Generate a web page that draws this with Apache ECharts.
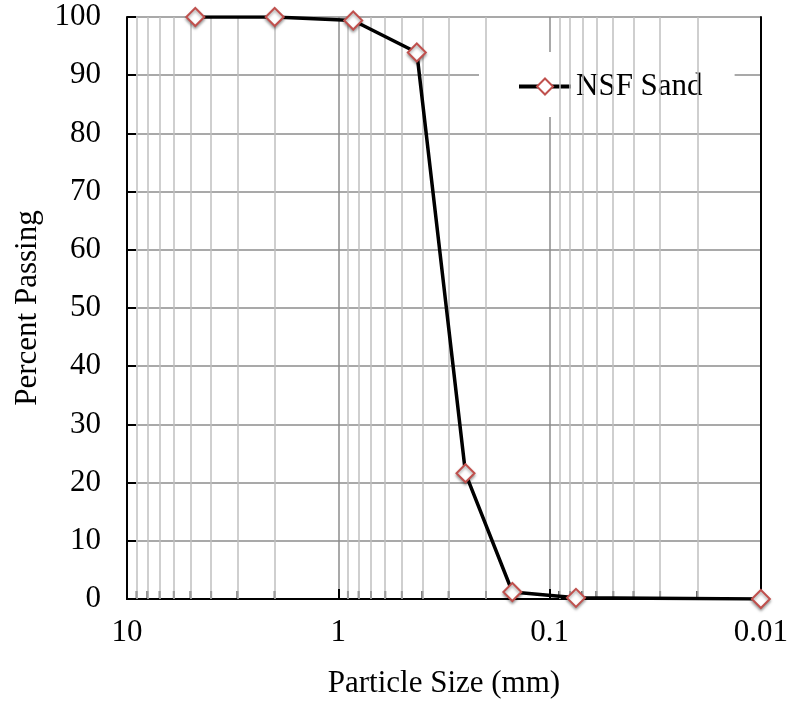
<!DOCTYPE html>
<html><head><meta charset="utf-8">
<script src="https://cdn.jsdelivr.net/npm/echarts@6/dist/echarts.min.js"></script>
<style>html,body{margin:0;padding:0;background:#fff}#c{width:791px;height:704px}</style>
</head><body><div id="c"></div>
<script>
var sizes = [4.75, 2.0, 0.85, 0.425, 0.25, 0.15, 0.075, 0.01];
var passing = [100, 100, 99.4, 93.9, 21.6, 1.2, 0.2, 0];
var seriesName = 'NSF Sand';
var minorSizes = [2,3,4,5,6,7,8,9, 0.2,0.3,0.4,0.5,0.6,0.7,0.8,0.9, 0.02,0.03,0.04,0.05,0.06,0.07,0.08,0.09];
var xMin = 0.01, xMax = 10, yMin = 0, yMax = 100, yStep = 10;
var xTitle = 'Particle Size (mm)', yTitle = 'Percent Passing';

var FONT = 'Liberation Serif';
var FS = 31;
var chart = echarts.init(document.getElementById('c'), null, {renderer: 'canvas'});
var fmt = function (v) { return String(+v.toPrecision(3)); };
chart.setOption({
  animation: false,
  grid: {left: 127, right: 29, top: 17, bottom: 104},
  legend: {
    data: [seriesName], left: 479, top: 52, padding: [19, 32, 15, 38],
    backgroundColor: '#fff', itemWidth: 52, itemHeight: 20, itemGap: 6,
    lineStyle: {width: 4, color: '#000'},
    textStyle: {fontFamily: FONT, fontSize: FS, color: '#000'}
  },
  xAxis: [{
    type: 'log', logBase: 10, min: xMin, max: xMax, inverse: true,
    name: xTitle, nameLocation: 'middle', nameGap: 69,
    nameTextStyle: {fontFamily: FONT, fontSize: FS, color: '#000'},
    axisLine: {lineStyle: {color: '#000', width: 2}},
    axisTick: {inside: true, length: 10, lineStyle: {color: '#000', width: 2}},
    axisLabel: {fontFamily: FONT, fontSize: FS, color: '#000', margin: 18, formatter: fmt},
    splitLine: {show: true, lineStyle: {color: '#8c8c8c', width: 1.5}}
  }, {
    type: 'log', logBase: 10, min: xMin, max: xMax, inverse: true, position: 'top',
    axisLine: {show: true, lineStyle: {color: '#000', width: 2}},
    axisTick: {show: false}, axisLabel: {show: false}, splitLine: {show: false}
  }],
  yAxis: [{
    type: 'value', min: yMin, max: yMax, interval: yStep,
    name: yTitle, nameLocation: 'middle', nameGap: 84,
    nameTextStyle: {fontFamily: FONT, fontSize: FS, color: '#000'},
    axisLine: {show: true, lineStyle: {color: '#000', width: 2}},
    axisTick: {show: true, inside: true, length: 9, lineStyle: {color: '#000', width: 2}},
    axisLabel: {fontFamily: FONT, fontSize: FS, color: '#000', margin: 26},
    splitLine: {show: true, lineStyle: {color: '#8c8c8c', width: 1.5}}
  }, {
    type: 'value', min: yMin, max: yMax, position: 'right',
    axisLine: {show: true, lineStyle: {color: '#000', width: 2}},
    axisTick: {show: false}, axisLabel: {show: false}, splitLine: {show: false}
  }],
  series: [{
    name: 'minorGrid', type: 'line', data: [], z: 1, silent: true,
    markLine: {
      silent: true, symbol: 'none', label: {show: false}, animation: false,
      lineStyle: {color: '#bfbfbf', width: 1.5, type: 'solid'},
      emphasis: {disabled: true},
      data: minorSizes.map(function (v) { return {xAxis: v}; })
    }
  }, {
    name: 'minorTicks', type: 'scatter', z: 3, silent: true,
    symbol: 'rect', symbolSize: [2, 8], symbolOffset: [0, -4],
    itemStyle: {color: '#000'},
    data: minorSizes.map(function (v) { return [v, yMin]; })
  }, {
    name: seriesName, type: 'line', z: 5,
    data: sizes.map(function (s, i) { return [s, passing[i]]; }),
    symbol: 'diamond', symbolSize: 18, showAllSymbol: true,
    lineStyle: {color: '#000', width: 3.5},
    itemStyle: {color: '#fff', borderColor: '#C0504D', borderWidth: 2,
      shadowColor: 'rgba(0,0,0,0.35)', shadowBlur: 3, shadowOffsetY: 2}
  }]
});
</script></body></html>
